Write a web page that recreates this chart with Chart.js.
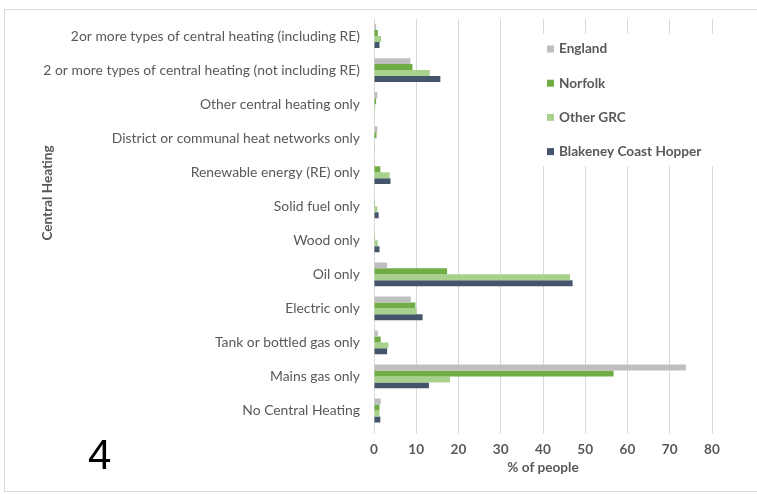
<!DOCTYPE html>
<html>
<head>
<meta charset="utf-8">
<script src="https://cdn.jsdelivr.net/npm/chart.js@4.4.0/dist/chart.umd.min.js"></script>
<style>
    html, body { margin: 0; padding: 0; background: #fff; }
    #wrap { position: relative; width: 757px; height: 494px; overflow: hidden; }
    #frame { position: absolute; left: 4px; top: 9px; width: 780px; height: 483px; border: 1px solid #d9d9d9; box-sizing: border-box; }
    #chart { position: absolute; left: 0; top: 0; }
    #num { position: absolute; left: 88px; top: 431px; font: 42px 'Liberation Sans', sans-serif; color: #000; }
</style>
</head>
<body>
<div id="wrap">
    <div id="frame"></div>
    <canvas id="chart" width="757" height="494"></canvas>
    <div id="num">4</div>
</div>
<script>
    const categories = [
        "2or more types of central heating (including RE)",
        "2 or more types of central heating (not including RE)",
        "Other central heating only",
        "District or communal heat networks only",
        "Renewable energy (RE) only",
        "Solid fuel only",
        "Wood only",
        "Oil only",
        "Electric only",
        "Tank or bottled gas only",
        "Mains gas only",
        "No Central Heating"
    ];
    const england  = [0.5, 8.6, 0.8, 0.8, 0.2, 0.1, 0.1, 3.1, 8.7, 0.9, 73.8, 1.6];
    const norfolk  = [0.9, 9.1, 0.5, 0.6, 1.5, 0.2, 0.2, 17.3, 9.8, 1.6, 56.7, 1.3];
    const otherGrc = [1.7, 13.2, 0.3, 0.1, 3.7, 0.8, 0.9, 46.4, 10.1, 3.4, 18.0, 1.3];
    const hopper   = [1.3, 15.7, 0.1, 0.1, 3.9, 1.1, 1.3, 47.0, 11.5, 3.1, 13.0, 1.5];
    const xTicks = [0, 10, 20, 30, 40, 50, 60, 70, 80];

    const grey = '#595959';
    const font = "'Lato', 'Liberation Sans', sans-serif";

    // legend drawn inside the plot, on a white box over the grid
    const legendBox = {
        id: 'legendBox',
        afterDraw(chart) {
            const c = chart.ctx;
            c.save();
            c.fillStyle = '#fff';
            c.fillRect(540, 34, 176, 132);
            c.font = 'bold 13.6px ' + font;
            c.textBaseline = 'middle';
            chart.data.datasets.forEach((ds, i) => {
                const y = 49 + i * 34.2;
                c.fillStyle = ds.backgroundColor;
                c.fillRect(547, y - 3.5, 7, 7);
                c.fillStyle = grey;
                c.fillText(ds.label, 559, y);
            });
            // y axis title
            c.translate(48, 193);
            c.rotate(-Math.PI / 2);
            c.textAlign = 'center';
            c.fillText('Central Heating', 0, 0);
            c.restore();
        }
    };

    const ctx = document.getElementById('chart');
    const chart = new Chart(ctx, {
        type: 'bar',
        data: {
            labels: categories,
            datasets: [
                { label: 'England', data: england, backgroundColor: '#bfbfbf' },
                { label: 'Norfolk', data: norfolk, backgroundColor: '#70ad47' },
                { label: 'Other GRC', data: otherGrc, backgroundColor: '#a9d18e' },
                { label: 'Blakeney Coast Hopper', data: hopper, backgroundColor: '#44546a' }
            ]
        },
        options: {
            indexAxis: 'y',
            responsive: false,
            animation: false,
            datasets: { bar: { categoryPercentage: 0.7, barPercentage: 1, borderWidth: 0 } },
            layout: { padding: { top: 19, right: 45, bottom: 16, left: 37 } },
            plugins: { legend: { display: false }, tooltip: { enabled: false } },
            scales: {
                x: {
                    min: 0,
                    max: 80,
                    afterBuildTicks: (s) => { s.ticks = xTicks.map(v => ({ value: v })); },
                    afterFit: (s) => { s.height = 50.5; },
                    ticks: { color: grey, font: { family: font, size: 13.6, weight: 'bold' }, padding: 8 },
                    grid: { color: '#d9d9d9', tickLength: 6 },
                    border: { display: false },
                    title: {
                        display: true, text: '% of people', color: grey,
                        font: { family: font, size: 13.6, weight: 'bold' }, padding: { top: 4, bottom: 2 }
                    }
                },
                y: {
                    afterFit: (s) => { s.width = 337; },
                    ticks: { color: grey, font: { family: font, size: 13.9 }, padding: 6 },
                    grid: { display: false },
                    border: { display: false }
                }
            }
        },
        plugins: [legendBox]
    });
</script>
</body>
</html>
